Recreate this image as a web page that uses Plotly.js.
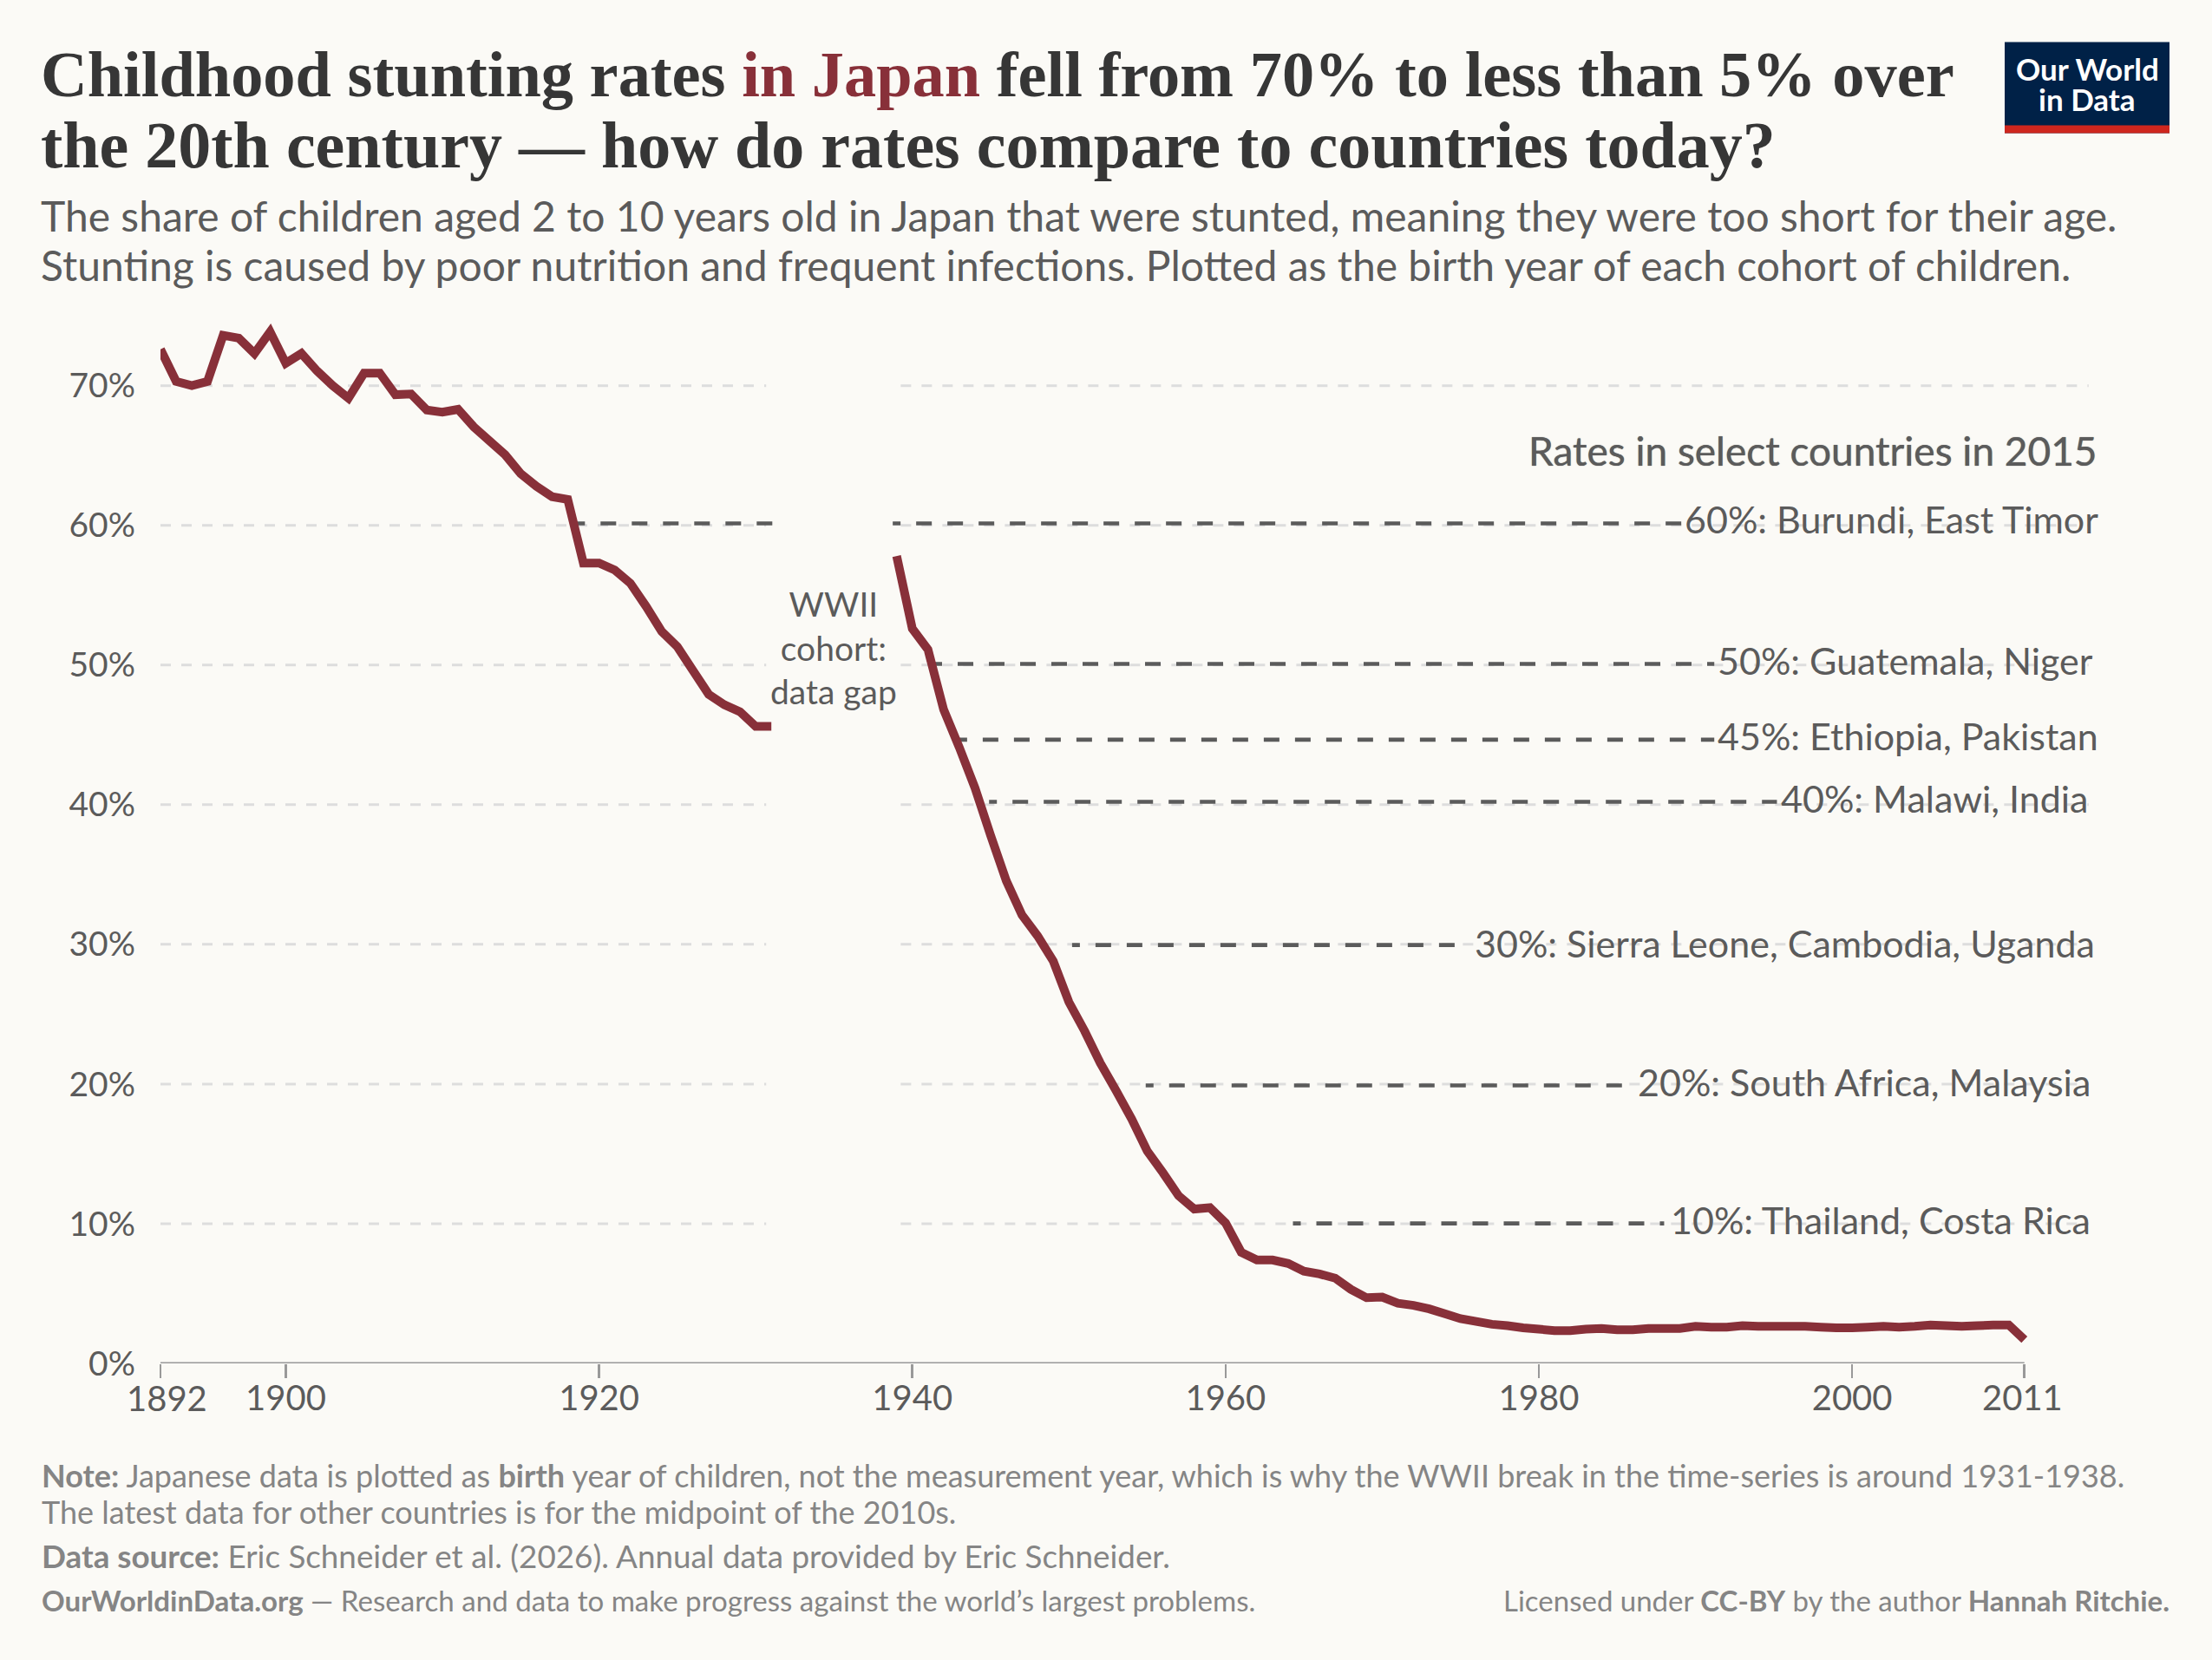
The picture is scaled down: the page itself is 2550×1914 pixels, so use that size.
<!DOCTYPE html>
<html><head><meta charset="utf-8">
<script src="https://cdn.plot.ly/plotly-3.0.1.min.js"></script>
<style>html,body{margin:0;padding:0;background:#fbfaf6}</style></head>
<body><div id="chart" style="width:2550px;height:1914px"></div>
<script>
const yearsEarly=[1892,1893,1894,1895,1896,1897,1898,1899,1900,1901,1902,1903,1904,1905,1906,1907,1908,1909,1910,1911,1912,1913,1914,1915,1916,1917,1918,1919,1920,1921,1922,1923,1924,1925,1926,1927,1928,1929,1930,1931];
const valuesEarly=[72.6,70.3,70.0,70.3,73.6,73.4,72.3,73.85,71.6,72.3,71.05,70.0,69.1,70.9,70.9,69.35,69.4,68.25,68.1,68.3,67.05,66.05,65.05,63.7,62.8,62.05,61.85,57.3,57.3,56.8,55.85,54.2,52.4,51.3,49.6,47.9,47.15,46.65,45.6,45.6];
const yearsLate=[1939,1940,1941,1942,1943,1944,1945,1946,1947,1948,1949,1950,1951,1952,1953,1954,1955,1956,1957,1958,1959,1960,1961,1962,1963,1964,1965,1966,1967,1968,1969,1970,1971,1972,1973,1974,1975,1976,1977,1978,1979,1980,1981,1982,1983,1984,1985,1986,1987,1988,1989,1990,1991,1992,1993,1994,1995,1996,1997,1998,1999,2000,2001,2002,2003,2004,2005,2006,2007,2008,2009,2010,2011];
const valuesLate=[57.8,52.6,51.1,46.8,44.1,41.2,37.8,34.55,32.1,30.6,28.8,25.86,23.8,21.5,19.55,17.5,15.2,13.65,12.0,11.05,11.15,10.05,7.95,7.4,7.4,7.15,6.6,6.4,6.1,5.3,4.7,4.75,4.3,4.15,3.9,3.55,3.2,3.0,2.8,2.7,2.55,2.45,2.35,2.35,2.45,2.5,2.4,2.4,2.5,2.5,2.5,2.65,2.6,2.6,2.7,2.65,2.65,2.65,2.65,2.6,2.55,2.55,2.6,2.65,2.6,2.65,2.75,2.7,2.65,2.7,2.75,2.75,1.7];
const refValues=[60.14,60.14,50.08,44.65,40.2,29.95,19.9,10.02];
const refStart=[1918.6,1938.75,1941.4,1943,1944.9,1950.2,1954.9,1964.3];
const refEnd=[1931.2,1989.1,1991.2,1991.2,1995.2,1975.2,1985.5,1988];
const refLabels=["60%: Burundi, East Timor","50%: Guatemala, Niger","45%: Ethiopia, Pakistan","40%: Malawi, India","30%: Sierra Leone, Cambodia, Uganda","20%: South Africa, Malaysia","10%: Thailand, Costa Rica"];
const yTicks=[0,10,20,30,40,50,60,70];
const yTickText=["0%","10%","20%","30%","40%","50%","60%","70%"];
const xTicks=[1892,1900,1920,1940,1960,1980,2000,2011];
const xTickText=["","1900","1920","1940","1960","1980","2000",""];

const W=2550,H=1914,L=184.6,R=135,T=348.4,B=342;
const px=x=>(x-L)/(W-L-R), py=y=>1-(y-T)/(H-T-B);
const DARK="#5b5b5b",FOOT="#858585",RED="#883039",FF="Lato, sans-serif",TITLEF="Liberation Serif, serif";

function ann(text,x,baseline,size,color,anchor,extra){
  const e=extra||{};
  return {text:text,xref:"paper",yref:"paper",x:px(x),y:py(baseline+0.213*size),xanchor:anchor||"left",yanchor:"bottom",
    showarrow:false,align:anchor||"left",borderpad:0,borderwidth:0,
    font:Object.assign({family:FF,size:size,color:color},e)};
}
const darkDash="9px,18px,"+Array(60).fill("18px,18px").join(",");
const traces=refValues.map((v,i)=>({x:[refStart[i],refEnd[i]],y:[v,v],mode:"lines",hoverinfo:"skip",showlegend:false,
  line:{color:DARK,width:4.6,dash:darkDash}}));
traces.push({x:[xTicks[0],xTicks[xTicks.length-1]],y:[0,0],mode:"lines",hoverinfo:"skip",showlegend:false,line:{color:"#999999",width:3}});
traces.push({x:yearsEarly,y:valuesEarly,mode:"lines",name:"Japan",showlegend:false,line:{color:RED,width:10}});
traces.push({x:yearsLate,y:valuesLate,mode:"lines",name:"Japan",showlegend:false,line:{color:RED,width:10}});
traces.forEach(t=>{t.line.shape="linear";t.line.simplify=false;t.cliponaxis=false;});

const shapes=[];
yTicks.filter(v=>v>0).forEach(v=>{
  [[1892,1930.67],[1939.26,2015.1]].forEach(s=>shapes.push({type:"line",layer:"below",xref:"x",yref:"y",x0:s[0],x1:s[1],y0:v,y1:v,
    line:{color:"#dddddd",width:3,dash:"12px,12px"}}));
});
shapes.push({type:"rect",xref:"paper",yref:"paper",x0:px(2311),x1:px(2501),y0:py(154),y1:py(49),fillcolor:"#002147",line:{width:0}});
shapes.push({type:"rect",xref:"paper",yref:"paper",x0:px(2311),x1:px(2501),y0:py(154),y1:py(145),fillcolor:"#ce261e",line:{width:0}});

const annotations=[
  ann("the 20th century — how do rates compare to countries today?",47,193,76,"#363636","left",{family:TITLEF,weight:700}),
  ann("The share of children aged 2 to 10 years old in Japan that were stunted, meaning they were too short for their age.",47,267,48,DARK),
  ann("Stunting is caused by poor nutrition and frequent infections. Plotted as the birth year of each cohort of children.",47,324,48,DARK),
  ann("<b>Note:</b> Japanese data is plotted as <b>birth</b> year of children, not the measurement year, which is why the WWII break in the time-series is around 1931-1938.",48,1715,36,FOOT),
  ann("The latest data for other countries is for the midpoint of the 2010s.",48,1757,36,FOOT),
  ann("<b>Data source:</b> Eric Schneider et al. (2026). Annual data provided by Eric Schneider.",48,1808,36.8,FOOT),
  ann("<b>OurWorldinData.org</b> — Research and data to make progress against the world’s largest problems.",48,1858,33.1,FOOT),
  ann("Licensed under <b>CC-BY</b> by the author <b>Hannah Ritchie.</b>",2501,1858,33,FOOT,"right"),
  ann("Rates in select countries in 2015",2418,538,46,DARK,"right",{shadow:"0 0 1px "+DARK}),
  ann("WWII<br>cohort:<br>data gap",961,812,39,DARK,"center"),
  ann("Our World",2406,93,35,"#ffffff","center",{weight:700}),
  ann("in Data",2406,128,35,"#ffffff","center",{weight:700}),
  ann("1892",192,1627,40,DARK,"center"),
  ann("2011",2331,1626,40,DARK,"center"),
];
const labelRight=[2419,2413,2419,2408,2415,2410,2410];
const labelBase=[615,778,865,937,1104,1264,1423];
refLabels.forEach((t,i)=>annotations.push(ann(t,labelRight[i],labelBase[i],43,DARK,"right")));

const layout={width:W,height:H,paper_bgcolor:"#fbfaf6",plot_bgcolor:"#fbfaf6",showlegend:false,
  margin:{l:L,r:R,t:T,b:B,pad:0},
  font:{family:FF,color:DARK},
  title:{text:'Childhood stunting rates <span style="color:'+RED+'">in Japan</span> fell from 70% to less than 5% over',
    font:{family:TITLEF,size:74.4,color:"#363636",weight:700},xref:"container",yref:"container",x:47/W,xanchor:"left",y:1-(94.5+16)/H,yanchor:"bottom",pad:{t:0,b:0,l:0,r:0}},
  xaxis:{range:[1892,2015.5],tickmode:"array",tickvals:xTicks,ticktext:xTickText,showgrid:false,zeroline:false,showline:false,
    ticks:"outside",ticklen:16,tickwidth:2.5,tickcolor:"#999999",tickfont:{family:FF,size:40,color:DARK},ticklabelstandoff:-11,fixedrange:true},
  yaxis:{range:[0,76],tickmode:"array",tickvals:yTicks,ticktext:yTickText,showgrid:false,zeroline:false,showline:false,
    ticks:"",tickfont:{family:FF,size:39,color:DARK},ticklabelstandoff:28,fixedrange:true},
  shapes:shapes,annotations:annotations};
Plotly.newPlot("chart",traces,layout,{displayModeBar:false,staticPlot:true});
</script></body></html>
